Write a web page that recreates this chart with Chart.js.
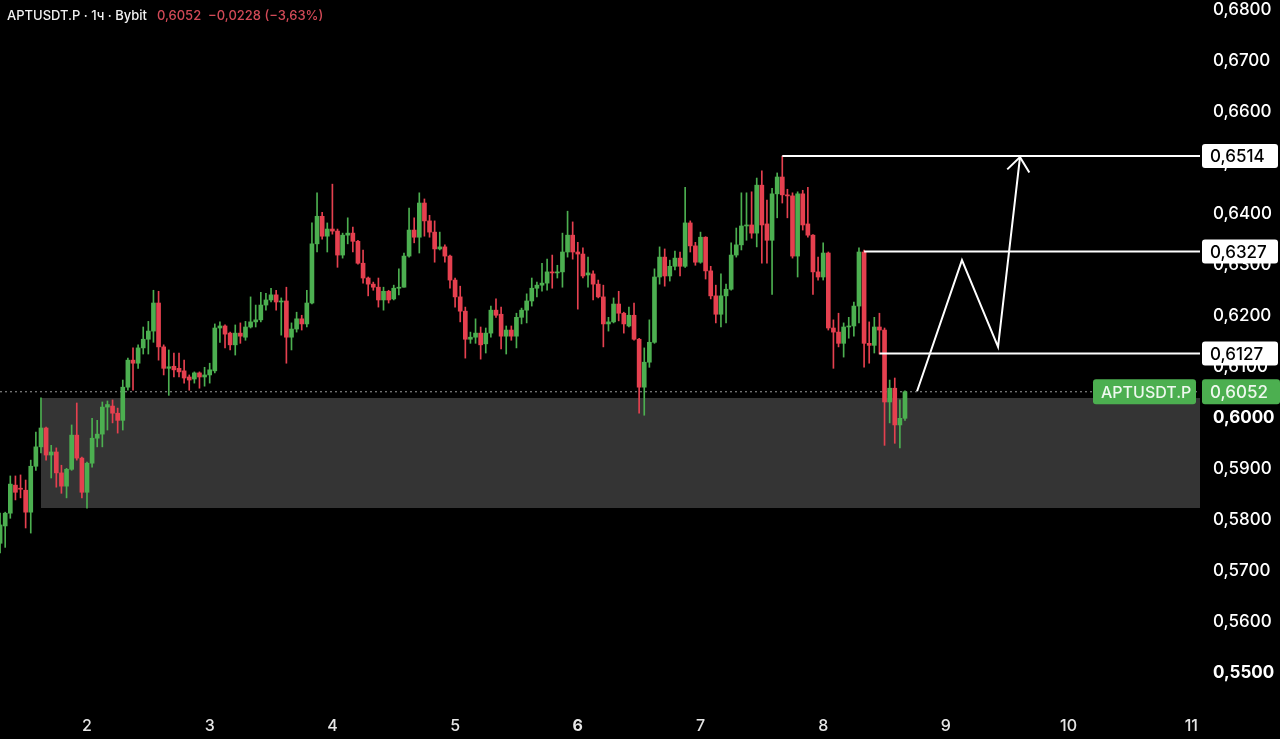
<!DOCTYPE html>
<html>
<head>
<meta charset="utf-8">
<title>APTUSDT.P 1h</title>
<script src="https://cdn.jsdelivr.net/npm/chart.js@4.4.1/dist/chart.umd.min.js"></script>
<style>
  html, body { margin: 0; padding: 0; background: #000; }
  #wrap { position: relative; width: 1280px; height: 739px; }
  #header { position: absolute; left: 7px; top: 7px; font: 500 13px Inter, "Noto Sans", sans-serif; color: #f2f2f2; white-space: pre; }
  #header .chg { color: #d24a57; margin-left: 3px; }
</style>
</head>
<body>
<div id="wrap">
  <canvas id="chart"></canvas>
  <div id="header">APTUSDT.P · 1ч · Bybit  <span class="chg">0,6052  −0,0228 (−3,63%)</span></div>
</div>
<script>
// hourly candles, first one at day 1, 07:00
const startDay = 1;
const startHour = 7;

const opens = [
  0.5755, 0.5789, 0.5814, 0.5869, 0.5862, 0.5859, 0.5816, 0.5906, 0.5944, 0.5981,
  0.5928, 0.5934, 0.5893, 0.5867, 0.5900, 0.5967, 0.5922, 0.5855, 0.5912, 0.5961,
  0.5969, 0.6022, 0.6024, 0.6010, 0.5996, 0.6061, 0.6114, 0.6108, 0.6138, 0.6155,
  0.6171, 0.6226, 0.6140, 0.6098, 0.6102, 0.6098, 0.6093, 0.6081, 0.6077, 0.6089,
  0.6081, 0.6085, 0.6093, 0.6177, 0.6181, 0.6167, 0.6144, 0.6167, 0.6159, 0.6179,
  0.6189, 0.6193, 0.6222, 0.6232, 0.6242, 0.6228, 0.6230, 0.6159, 0.6175, 0.6195,
  0.6185, 0.6226, 0.6342, 0.6396, 0.6357, 0.6371, 0.6367, 0.6320, 0.6359, 0.6363,
  0.6347, 0.6304, 0.6275, 0.6263, 0.6257, 0.6232, 0.6249, 0.6234, 0.6255, 0.6257,
  0.6318, 0.6369, 0.6355, 0.6422, 0.6387, 0.6365, 0.6332, 0.6336, 0.6318, 0.6271,
  0.6238, 0.6210, 0.6155, 0.6159, 0.6167, 0.6146, 0.6167, 0.6212, 0.6204, 0.6161,
  0.6173, 0.6161, 0.6198, 0.6212, 0.6230, 0.6255, 0.6261, 0.6265, 0.6287, 0.6285,
  0.6287, 0.6326, 0.6359, 0.6326, 0.6322, 0.6281, 0.6283, 0.6263, 0.6238, 0.6185,
  0.6189, 0.6224, 0.6206, 0.6181, 0.6202, 0.6155, 0.6061, 0.6110, 0.6149, 0.6277,
  0.6316, 0.6279, 0.6298, 0.6314, 0.6298, 0.6383, 0.6338, 0.6306, 0.6355, 0.6289,
  0.6240, 0.6204, 0.6240, 0.6253, 0.6320, 0.6340, 0.6377, 0.6379, 0.6363, 0.6457,
  0.6381, 0.6349, 0.6440, 0.6473, 0.6438, 0.6436, 0.6318, 0.6440, 0.6381, 0.6359,
  0.6287, 0.6277, 0.6324, 0.6177, 0.6169, 0.6147, 0.6179, 0.6181, 0.6220, 0.6326,
  0.6147, 0.6143, 0.6179, 0.6173, 0.6032, 0.6059, 0.5987, 0.6000
];
const highs = [
  0.5814, 0.5816, 0.5887, 0.5887, 0.5889, 0.5879, 0.5918, 0.5973, 0.6040, 0.5983,
  0.5947, 0.5942, 0.5908, 0.5902, 0.5987, 0.6030, 0.5924, 0.5914, 0.6000, 0.5996,
  0.6032, 0.6034, 0.6036, 0.6020, 0.6075, 0.6118, 0.6138, 0.6144, 0.6179, 0.6190,
  0.6251, 0.6249, 0.6144, 0.6134, 0.6128, 0.6128, 0.6114, 0.6085, 0.6091, 0.6091,
  0.6100, 0.6108, 0.6185, 0.6189, 0.6183, 0.6169, 0.6183, 0.6187, 0.6190, 0.6238,
  0.6222, 0.6247, 0.6245, 0.6255, 0.6251, 0.6236, 0.6257, 0.6187, 0.6208, 0.6202,
  0.6251, 0.6383, 0.6442, 0.6404, 0.6383, 0.6459, 0.6371, 0.6363, 0.6393, 0.6375,
  0.6349, 0.6330, 0.6277, 0.6267, 0.6275, 0.6257, 0.6251, 0.6261, 0.6293, 0.6324,
  0.6412, 0.6393, 0.6442, 0.6430, 0.6398, 0.6387, 0.6365, 0.6340, 0.6320, 0.6275,
  0.6259, 0.6218, 0.6169, 0.6195, 0.6179, 0.6177, 0.6220, 0.6234, 0.6218, 0.6181,
  0.6181, 0.6206, 0.6216, 0.6244, 0.6275, 0.6267, 0.6304, 0.6312, 0.6320, 0.6300,
  0.6363, 0.6406, 0.6385, 0.6345, 0.6334, 0.6316, 0.6289, 0.6271, 0.6261, 0.6198,
  0.6236, 0.6249, 0.6208, 0.6218, 0.6226, 0.6157, 0.6138, 0.6193, 0.6293, 0.6336,
  0.6332, 0.6310, 0.6328, 0.6326, 0.6453, 0.6387, 0.6345, 0.6365, 0.6356, 0.6298,
  0.6261, 0.6283, 0.6263, 0.6344, 0.6373, 0.6442, 0.6442, 0.6444, 0.6471, 0.6485,
  0.6428, 0.6451, 0.6481, 0.6514, 0.6449, 0.6442, 0.6444, 0.6447, 0.6453, 0.6360,
  0.6316, 0.6344, 0.6326, 0.6193, 0.6206, 0.6187, 0.6198, 0.6228, 0.6334, 0.6330,
  0.6189, 0.6198, 0.6206, 0.6177, 0.6075, 0.6079, 0.6036, 0.6054
];
const lows = [
  0.5736, 0.5747, 0.5804, 0.5840, 0.5844, 0.5785, 0.5775, 0.5898, 0.5932, 0.5918,
  0.5883, 0.5865, 0.5853, 0.5844, 0.5898, 0.5918, 0.5844, 0.5824, 0.5904, 0.5944,
  0.5944, 0.5977, 0.5991, 0.5971, 0.5977, 0.6055, 0.6055, 0.6098, 0.6126, 0.6126,
  0.6149, 0.6114, 0.6085, 0.6045, 0.6081, 0.6081, 0.6069, 0.6055, 0.6069, 0.6059,
  0.6063, 0.6069, 0.6089, 0.6149, 0.6138, 0.6134, 0.6124, 0.6147, 0.6153, 0.6177,
  0.6179, 0.6189, 0.6212, 0.6228, 0.6212, 0.6163, 0.6108, 0.6134, 0.6169, 0.6173,
  0.6179, 0.6224, 0.6326, 0.6351, 0.6326, 0.6361, 0.6296, 0.6314, 0.6342, 0.6326,
  0.6302, 0.6265, 0.6240, 0.6251, 0.6218, 0.6212, 0.6226, 0.6232, 0.6242, 0.6257,
  0.6316, 0.6344, 0.6324, 0.6357, 0.6355, 0.6306, 0.6330, 0.6306, 0.6255, 0.6218,
  0.6189, 0.6118, 0.6147, 0.6147, 0.6116, 0.6128, 0.6159, 0.6198, 0.6136, 0.6126,
  0.6153, 0.6138, 0.6185, 0.6187, 0.6220, 0.6238, 0.6249, 0.6251, 0.6255, 0.6275,
  0.6257, 0.6316, 0.6312, 0.6214, 0.6275, 0.6257, 0.6232, 0.6236, 0.6140, 0.6171,
  0.6187, 0.6191, 0.6167, 0.6179, 0.6153, 0.6010, 0.6006, 0.6100, 0.6147, 0.6263,
  0.6259, 0.6269, 0.6291, 0.6279, 0.6296, 0.6326, 0.6300, 0.6304, 0.6273, 0.6234,
  0.6187, 0.6179, 0.6187, 0.6251, 0.6316, 0.6330, 0.6349, 0.6353, 0.6336, 0.6304,
  0.6304, 0.6243, 0.6393, 0.6422, 0.6393, 0.6314, 0.6277, 0.6369, 0.6355, 0.6243,
  0.6271, 0.6271, 0.6173, 0.6098, 0.6140, 0.6120, 0.6157, 0.6161, 0.6187, 0.6100,
  0.6108, 0.6128, 0.6126, 0.5947, 0.5991, 0.5951, 0.5942, 0.5996
];
const closes = [
  0.5791, 0.5814, 0.5871, 0.5855, 0.5861, 0.5816, 0.5906, 0.5944, 0.5981, 0.5928,
  0.5934, 0.5893, 0.5867, 0.5900, 0.5967, 0.5922, 0.5855, 0.5912, 0.5961, 0.5969,
  0.6022, 0.6027, 0.6010, 0.5996, 0.6061, 0.6114, 0.6108, 0.6138, 0.6155, 0.6171,
  0.6226, 0.6140, 0.6098, 0.6101, 0.6095, 0.6091, 0.6079, 0.6075, 0.6089, 0.6081,
  0.6085, 0.6095, 0.6177, 0.6181, 0.6165, 0.6144, 0.6167, 0.6161, 0.6179, 0.6189,
  0.6193, 0.6222, 0.6232, 0.6242, 0.6228, 0.6230, 0.6159, 0.6175, 0.6195, 0.6185,
  0.6226, 0.6342, 0.6396, 0.6357, 0.6371, 0.6367, 0.6320, 0.6359, 0.6363, 0.6347,
  0.6304, 0.6275, 0.6263, 0.6257, 0.6232, 0.6249, 0.6232, 0.6255, 0.6257, 0.6318,
  0.6369, 0.6355, 0.6422, 0.6387, 0.6365, 0.6332, 0.6336, 0.6318, 0.6271, 0.6238,
  0.6210, 0.6155, 0.6159, 0.6167, 0.6144, 0.6167, 0.6212, 0.6202, 0.6161, 0.6173,
  0.6161, 0.6198, 0.6212, 0.6230, 0.6255, 0.6261, 0.6265, 0.6287, 0.6285, 0.6287,
  0.6326, 0.6359, 0.6326, 0.6322, 0.6279, 0.6285, 0.6263, 0.6238, 0.6185, 0.6189,
  0.6224, 0.6206, 0.6185, 0.6202, 0.6155, 0.6061, 0.6110, 0.6149, 0.6277, 0.6316,
  0.6279, 0.6298, 0.6314, 0.6298, 0.6383, 0.6338, 0.6306, 0.6355, 0.6289, 0.6240,
  0.6204, 0.6240, 0.6253, 0.6320, 0.6340, 0.6377, 0.6379, 0.6363, 0.6457, 0.6379,
  0.6349, 0.6440, 0.6473, 0.6438, 0.6436, 0.6318, 0.6440, 0.6379, 0.6359, 0.6287,
  0.6277, 0.6324, 0.6177, 0.6169, 0.6147, 0.6179, 0.6181, 0.6220, 0.6326, 0.6147,
  0.6143, 0.6179, 0.6173, 0.6032, 0.6059, 0.5987, 0.6000, 0.6052
];

const dayTicks = [2, 3, 4, 5, 6, 7, 8, 9, 10, 11];
const boldDays = [6];
const priceTicks = [0.55, 0.56, 0.57, 0.58, 0.59, 0.60, 0.61, 0.62, 0.63, 0.64, 0.65, 0.66, 0.67, 0.68];
const boldPrices = [0.55, 0.60];

// demand zone
const zoneLow = 0.5824;
const zoneHigh = 0.6040;
const zoneStartIdx = 8;

// horizontal levels and the candle each starts from
const levels = [0.6514, 0.6327, 0.6127];
const levelStartIdx = [153, 169, 172];

const lastPrice = 0.6052;
const symbol = 'APTUSDT.P';

// projected path (days, prices)
const pathDays = [8.765, 9.131, 9.425, 9.604];
const pathPrices = [0.6053, 0.6310, 0.6140, 0.6512];
const headDays = [9.50, 9.604, 9.68];
const headPrices = [0.6488, 0.6512, 0.6482];

// visible window
const viewMin = 1.291, viewMax = 11.071;
const priceMin = 0.5438, priceMax = 0.6820;

const UP = '#4caf50';
const DOWN = '#e5404f';

const times = opens.map((_, i) => startDay + (startHour + i) / 24);
const candleColors = opens.map((o, i) => closes[i] >= o ? UP : DOWN);
const fmt = v => v.toFixed(4).replace('.', ',');

function drawTag(ctx, x, yMid, w, h, bg, fg, text) {
  ctx.fillStyle = bg;
  ctx.beginPath();
  ctx.roundRect(x, yMid - h / 2, w, h, 3);
  ctx.fill();
  ctx.fillStyle = fg;
  ctx.textAlign = 'left';
  ctx.textBaseline = 'middle';
  ctx.fillText(text, x + 8, yMid + 1);
}

const tagPlugin = {
  id: 'priceTags',
  afterDraw(chart) {
    const { ctx, chartArea } = chart;
    const y = chart.scales.y;
    ctx.save();
    ctx.font = '500 17px Inter, "Noto Sans", sans-serif';
    levels.forEach(v => {
      drawTag(ctx, chartArea.right + 2, y.getPixelForValue(v), 76, 24, '#ffffff', '#000000', fmt(v));
    });
    const py = y.getPixelForValue(lastPrice);
    drawTag(ctx, chartArea.right + 2, py, 78, 25, UP, '#eef8ee', fmt(lastPrice));
    ctx.font = '500 16px Inter, "Noto Sans", sans-serif';
    drawTag(ctx, chartArea.right - 107, py, 103, 25, UP, '#eef8ee', symbol);
    ctx.restore();
  }
};

// no extra room for edge labels: the plot fills the canvas
function noPadding(s) {
  s.paddingTop = 0;
  s.paddingBottom = 0;
  s.paddingLeft = 0;
  s.paddingRight = 0;
}

Chart.defaults.font.family = 'Inter, "Noto Sans", sans-serif';
Chart.defaults.color = '#ffffff';

const lineStyle = { type: 'line', pointRadius: 0, tension: 0, fill: false };

new Chart(document.getElementById('chart').getContext('2d'), {
  type: 'bar',
  data: {
    datasets: [
      {
        ...lineStyle,
        data: [{ x: times[zoneStartIdx], y: zoneHigh }, { x: viewMax, y: zoneHigh }],
        fill: { value: zoneLow },
        backgroundColor: '#343434',
        borderWidth: 0,
        order: 10
      },
      {
        ...lineStyle,
        data: [{ x: viewMin, y: lastPrice }, { x: viewMax, y: lastPrice }],
        borderColor: '#9a9a9a',
        borderWidth: 1,
        borderDash: [2, 3],
        order: 8
      },
      {
        type: 'bar',
        data: times.map((t, i) => ({ x: t, y: [lows[i], highs[i]] })),
        backgroundColor: candleColors,
        barThickness: 1,
        grouped: false,
        order: 6
      },
      {
        type: 'bar',
        data: times.map((t, i) => ({ x: t, y: [opens[i], closes[i]] })),
        backgroundColor: candleColors,
        barThickness: 4,
        minBarLength: 1,
        grouped: false,
        order: 5
      },
      ...levels.map((v, k) => ({
        ...lineStyle,
        data: [{ x: times[levelStartIdx[k]], y: v }, { x: viewMax, y: v }],
        borderColor: '#ffffff',
        borderWidth: 2,
        order: 2
      })),
      {
        ...lineStyle,
        data: pathDays.map((d, i) => ({ x: d, y: pathPrices[i] })),
        borderColor: '#ffffff',
        borderWidth: 2,
        order: 1
      },
      {
        ...lineStyle,
        data: headDays.map((d, i) => ({ x: d, y: headPrices[i] })),
        borderColor: '#ffffff',
        borderWidth: 2,
        order: 1
      }
    ]
  },
  options: {
    responsive: true,
    maintainAspectRatio: false,
    animation: false,
    events: [],
    layout: { padding: 0 },
    plugins: {
      legend: { display: false },
      tooltip: { enabled: false }
    },
    scales: {
      x: {
        type: 'linear',
        min: viewMin,
        max: viewMax,
        offset: false,
        grid: { display: false, drawTicks: false },
        border: { display: false },
        afterBuildTicks: s => { s.ticks = dayTicks.map(v => ({ value: v })); },
        afterFit: s => { s.height = 34; noPadding(s); },
        ticks: {
          padding: 12,
          color: '#e6e6e6',
          maxRotation: 0,
          autoSkip: false,
          font: c => ({ size: 16, weight: boldDays.includes(c.tick && c.tick.value) ? '700' : '500' }),
          callback: v => String(v)
        }
      },
      y: {
        type: 'linear',
        position: 'right',
        min: priceMin,
        max: priceMax,
        grid: { display: false, drawTicks: false },
        border: { display: false },
        afterBuildTicks: s => { s.ticks = priceTicks.map(v => ({ value: v })); },
        afterFit: s => { s.width = 80; noPadding(s); },
        ticks: {
          padding: 13,
          color: '#ffffff',
          autoSkip: false,
          font: c => ({
            size: 17,
            weight: c.tick && boldPrices.some(b => Math.abs(b - c.tick.value) < 1e-6) ? '700' : '500'
          }),
          callback: v => fmt(v)
        }
      }
    }
  },
  plugins: [tagPlugin]
});
</script>
</body>
</html>
